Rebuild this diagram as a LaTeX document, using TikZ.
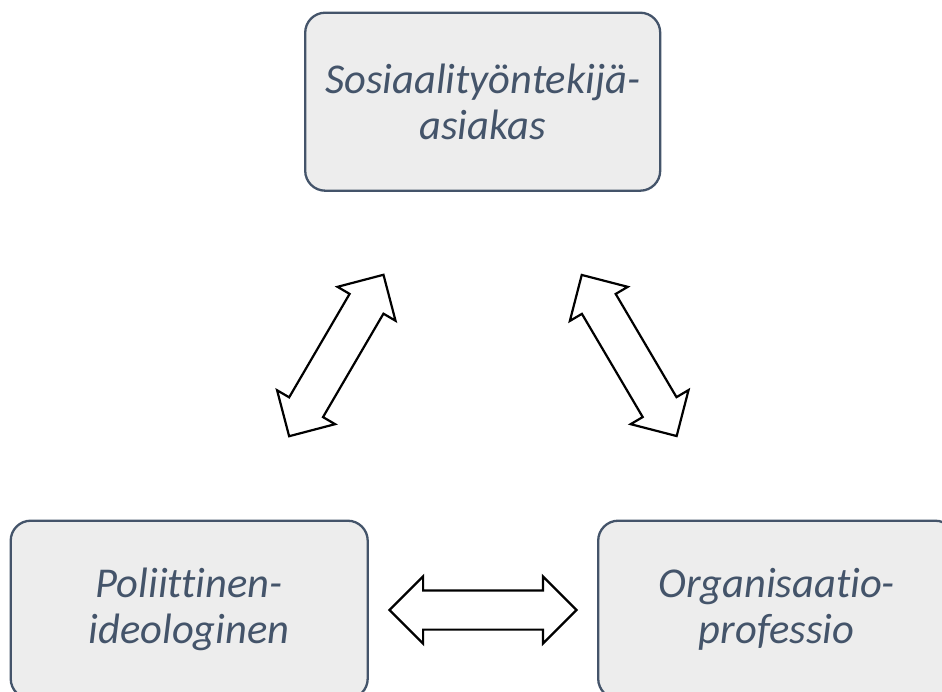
\documentclass[tikz,border=0pt]{standalone}
\usepackage{fontspec}
\setmainfont{Carlito}[Ligatures=NoCommon]
\usetikzlibrary{shapes.arrows}
\definecolor{boxfill}{HTML}{EDEDED}
\definecolor{boxline}{HTML}{44546A}
\definecolor{boxtext}{HTML}{44546A}
\tikzset{
  stagebox/.style={draw=boxline, line width=2.3pt, fill=boxfill, rounded corners=20pt,
    minimum width=#1, minimum height=178pt, inner sep=0pt, align=center,
    text=boxtext, font=\fontsize{42.5}{46}\selectfont\itshape},
  bigarrow/.style={double arrow, draw=black, line width=2.2pt, fill=white,
    minimum height=187pt, minimum width=65pt, double arrow head extend=14pt,
    double arrow tip angle=90, inner xsep=0pt, inner ysep=18.5pt}
}
\begin{document}
\begin{tikzpicture}[x=1pt,y=-1pt]
\useasboundingbox (0,0) rectangle (942,692);
\clip (0,0) rectangle (942,692);
\node[stagebox=355pt] (top) at (482.7,101.7) {Sosiaalityöntekijä-\\asiakas};
\node[stagebox=357pt] (pol) at (189.2,609.7) {Poliittinen-\\ideologinen};
\node[stagebox=357pt] (org) at (776.7,609.7) {Organisaatio-\\professio};
\node[bigarrow, rotate=59.7] (a1) at (336.3,355.5) {};
\node[bigarrow, rotate=-59.5] (a2) at (629.2,355.5) {};
\node[bigarrow] (a3) at (483,610) {};
\end{tikzpicture}
\end{document}
